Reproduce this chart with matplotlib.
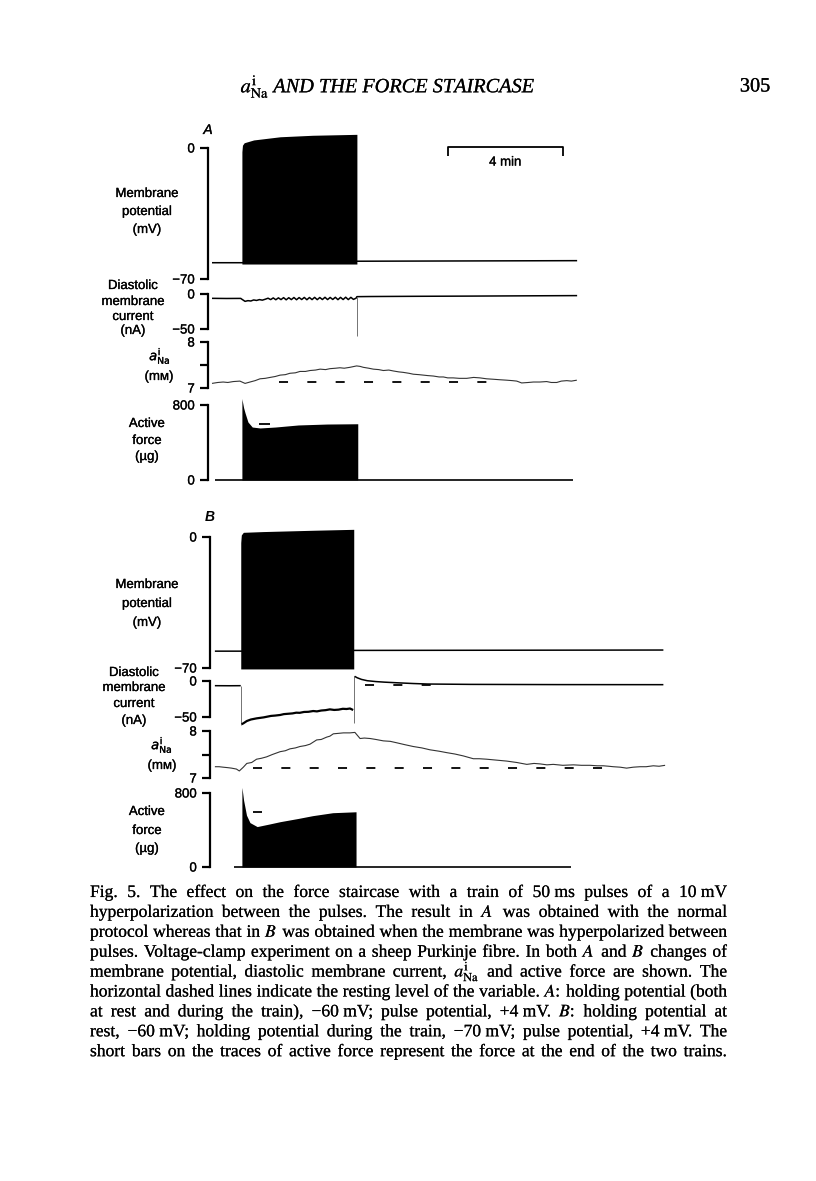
# coding: utf-8
import matplotlib
matplotlib.use('Agg')
import matplotlib.pyplot as plt
import matplotlib.patheffects as pe

# page size (px at dpi 100)
W = 816
H = 1181

# every trace shares one time axis (minutes)
T0_PX = 212.0
PX_PER_MIN = 28.75
RIGHT_PX = 700.0

SANS = ['Liberation Sans', 'DejaVu Sans']
SERIF = ['Liberation Serif', 'DejaVu Serif']
INK = [pe.withStroke(linewidth=0.2, foreground='black')]

# ---------------- A : membrane potential (mV)
memATime = [0.0, 1.04, 5.04, 12.7]
memAVal = [-61.3, -61.3, -60.5, -60.2]
trainATime = [1.04, 1.06, 1.12, 1.45, 2.37, 3.5, 5.04]
trainATop = [-2.0, 1.5, 2.8, 4.3, 6.0, 6.8, 7.3]
trainABottom = -62.0

# ---------------- A : diastolic membrane current (nA)
curATime = [0.0, 0.5, 1.0, 1.04, 1.15, 1.25, 1.35, 1.45, 1.55, 1.65, 1.75, 1.85,
            1.95, 2.04, 2.13, 2.22, 2.31, 2.40, 2.49, 2.58, 2.67, 2.76, 2.85, 2.94,
            3.03, 3.12, 3.21, 3.30, 3.39, 3.48, 3.57, 3.66, 3.75, 3.84, 3.93, 4.02,
            4.11, 4.20, 4.29, 4.38, 4.47, 4.56, 4.65, 4.74, 4.83, 4.92, 5.01,
            5.04, 5.5, 7.0, 9.0, 11.0, 12.7]
curAVal = [-6.2, -6.4, -6.3, -7.5, -10.5, -9.5, -10.0, -8.5, -9.2, -8.0, -8.8, -7.5,
           -6.0, -8.0, -5.6, -8.2, -5.5, -8.0, -5.2, -8.3, -5.3, -8.0, -5.0, -8.2,
           -5.1, -7.9, -4.9, -8.2, -5.0, -8.0, -4.8, -8.1, -5.0, -7.9, -4.7, -8.0,
           -4.9, -7.8, -4.7, -8.1, -4.8, -7.9, -4.6, -8.0, -4.8, -7.7, -6.0,
           -3.8, -3.6, -3.3, -3.0, -2.6, -2.3]
curASpikeTime = [5.04, 5.04]
curASpikeVal = [-4.0, -60.0]

# ---------------- A : aNa (mM)
anaATime = [0.0, 0.2, 0.39, 0.55, 0.74, 0.97, 1.15, 1.38, 1.5, 1.67, 1.85, 2.02,
            2.2, 2.37, 2.55, 2.71, 2.9, 3.06, 3.25, 3.41, 3.6, 3.76, 3.95, 4.10,
            4.3, 4.45, 4.6, 4.80, 5.03, 5.15, 5.26, 5.45, 5.61, 5.8, 5.96, 6.15,
            6.31, 6.5, 6.65, 6.85, 7.00, 7.2, 7.35, 7.5, 7.70, 7.9, 8.05, 8.2,
            8.39, 8.6, 8.86, 9.1, 9.32, 9.55, 9.79, 10.0, 10.25, 10.45, 10.60,
            10.77, 11.0, 11.18, 11.4, 11.64, 11.8, 11.99, 12.15, 12.34, 12.5, 12.69]
anaAVal = [7.10, 7.12, 7.13, 7.12, 7.14, 7.15, 7.10, 7.14, 7.16, 7.20, 7.21, 7.23,
           7.25, 7.28, 7.29, 7.32, 7.33, 7.36, 7.36, 7.38, 7.39, 7.41, 7.40, 7.42,
           7.43, 7.44, 7.43, 7.45, 7.48, 7.47, 7.45, 7.43, 7.41, 7.40, 7.38, 7.39,
           7.37, 7.35, 7.34, 7.32, 7.30, 7.29, 7.28, 7.27, 7.26, 7.24, 7.24, 7.22,
           7.22, 7.21, 7.21, 7.23, 7.22, 7.20, 7.19, 7.18, 7.17, 7.16, 7.15,
           7.11, 7.12, 7.13, 7.13, 7.14, 7.12, 7.12, 7.15, 7.16, 7.15, 7.17]
restAnaA = 7.13
restAnaATime = [2.33, 9.57]

# ---------------- A : active force (ug)
forceABaseTime = [0.1, 12.55]
forceABaseVal = [0.0, 0.0]
forceATime = [1.04, 1.05, 1.1, 1.15, 1.25, 1.4, 1.67, 2.2, 3.0, 4.0, 5.07]
forceATop = [870, 850, 770, 715, 619, 565, 555, 565, 587, 597, 600]
endForceA = 598
endForceATime = [1.63, 2.0]

# ---------------- B : membrane potential (mV)
memBTime = [0.1, 1.0, 4.93, 15.7]
memBVal = [-61.0, -61.0, -60.6, -60.4]
trainBTime = [1.0, 1.02, 1.09, 1.78, 3.52, 4.93]
trainBTop = [-3.0, 1.1, 2.5, 2.9, 3.6, 4.1]
trainBBottom = -70.5

# ---------------- B : diastolic membrane current (nA)
curBPreTime = [0.1, 0.6, 1.0]
curBPreVal = [-6.5, -6.6, -6.5]
curBDropTime = [1.01, 1.01]
curBDropVal = [-6.5, -61.0]
curBTrainTime = [1.03, 1.09, 1.21, 1.35, 1.55, 1.8, 2.05, 2.2, 2.37, 2.5, 2.65, 2.8,
                 2.93, 3.05, 3.2, 3.35, 3.52, 3.65, 3.8, 3.95, 4.1, 4.25, 4.4, 4.55,
                 4.68, 4.8, 4.91]
curBTrainVal = [-60.0, -58.8, -55.6, -53.5, -51.9, -50.5, -48.5, -48.0, -47.2, -46.0,
                -45.5, -45.0, -44.0, -44.2, -43.0, -42.8, -41.7, -42.2, -41.0, -40.5,
                -39.4, -40.2, -39.8, -38.6, -38.9, -38.2, -40.3]
curBJumpTime = [4.94, 4.94]
curBJumpVal = [-58.0, 7.5]
curBPostTime = [4.96, 5.05, 5.2, 5.4, 5.7, 6.0, 6.5, 7.0, 7.5, 9.0, 12.0, 15.7]
curBPostVal = [6.5, 4.5, 2.2, 0.4, -0.8, -1.6, -2.6, -3.5, -4.2, -4.7, -5.0, -5.1]
restCurB = -5.6
restCurBTime = [5.32, 7.65]

# ---------------- B : aNa (mM)
anaBTime = [0.10, 0.25, 0.39, 0.55, 0.68, 0.85, 0.95, 1.09, 1.21, 1.38, 1.55, 1.72,
            1.90, 2.1, 2.37, 2.55, 2.71, 2.9, 3.06, 3.25, 3.41, 3.64, 3.8, 3.99,
            4.1, 4.22, 4.4, 4.57, 4.8, 4.97, 5.15, 5.3, 5.50, 5.7, 5.96, 6.2,
            6.42, 6.7, 7.00, 7.3, 7.58, 7.9, 8.16, 8.45, 8.74, 9.09, 9.3, 9.55,
            9.9, 10.25, 10.6, 10.95, 11.2, 11.41, 11.65, 11.87, 12.2, 12.57, 12.85,
            13.15, 13.4, 13.61, 13.8, 13.96, 14.2, 14.42, 14.65, 14.89, 15.1, 15.35,
            15.55, 15.76]
anaBVal = [7.24, 7.24, 7.23, 7.22, 7.21, 7.19, 7.15, 7.23, 7.31, 7.33, 7.40, 7.42,
           7.45, 7.50, 7.56, 7.58, 7.62, 7.64, 7.67, 7.69, 7.72, 7.81, 7.82, 7.87,
           7.89, 7.94, 7.95, 7.96, 7.96, 7.97, 7.84, 7.85, 7.84, 7.82, 7.79, 7.78,
           7.75, 7.71, 7.67, 7.64, 7.60, 7.57, 7.54, 7.51, 7.47, 7.41, 7.41, 7.40,
           7.38, 7.36, 7.33, 7.29, 7.31, 7.30, 7.28, 7.29, 7.27, 7.28, 7.27,
           7.27, 7.26, 7.26, 7.25, 7.24, 7.23, 7.21, 7.23, 7.24, 7.24, 7.26,
           7.25, 7.27]
restAnaB = 7.21
restAnaBTime = [1.43, 13.6]

# ---------------- B : active force (ug)
forceBBaseTime = [0.75, 12.5]
forceBBaseVal = [0.0, 0.0]
forceBTime = [1.04, 1.05, 1.1, 1.2, 1.32, 1.57, 2.0, 2.37, 3.0, 3.5, 4.2, 5.01]
forceBTop = [860, 840, 720, 560, 480, 437, 465, 490, 525, 555, 587, 597]
endForceB = 590
endForceBTime = [1.43, 1.74]

# scale bar (min)
scaleBarTime = [8.2, 12.2]

captionLines = [
    "Fig. 5. The effect on the force staircase with a train of 50\u00a0ms pulses of a 10\u00a0mV",
    "hyperpolarization between the pulses. The result in $\\mathit{A}$ was obtained with the normal",
    "protocol whereas that in $\\mathit{B}$ was obtained when the membrane was hyperpolarized between",
    "pulses. Voltage-clamp experiment on a sheep Purkinje fibre. In both $\\mathit{A}$ and $\\mathit{B}$ changes of",
    "membrane potential, diastolic membrane current, $a^{\\mathrm{i}}_{\\mathrm{Na}}$ and active force are shown. The",
    "horizontal dashed lines indicate the resting level of the variable. $\\mathit{A}$: holding potential (both",
    "at rest and during the train), \u221260\u00a0mV; pulse potential, +4\u00a0mV. $\\mathit{B}$: holding potential at",
    "rest, \u221260\u00a0mV; holding potential during the train, \u221270\u00a0mV; pulse potential, +4\u00a0mV. The",
    "short bars on the traces of active force represent the force at the end of the two trains.",
]


def fx(px):
    return px / W


def fy(py):
    return 1.0 - py / H


def addPanel(fig, leftPx, topPx, bottomPx, yBottom, yTop, labels, midTick=None):
    ax = fig.add_axes([fx(leftPx), fy(bottomPx), (RIGHT_PX - leftPx) / W,
                       (bottomPx - topPx) / H])
    ax.set_xlim((leftPx - T0_PX) / PX_PER_MIN, (RIGHT_PX - T0_PX) / PX_PER_MIN)
    ax.set_ylim(yBottom, yTop)
    for side in ['top', 'right', 'bottom']:
        ax.spines[side].set_visible(False)
    ax.spines['left'].set_linewidth(1.6)
    ax.set_xticks([])
    ticks = [yBottom, yTop]
    tickLabels = list(labels)
    if midTick is not None:
        ticks.append(midTick)
        tickLabels.append('')
    ax.set_yticks(ticks, tickLabels)
    ax.tick_params(axis='y', direction='out', length=5.5, width=1.6, pad=4,
                   labelsize=9.5)
    for lab in ax.get_yticklabels():
        lab.set_path_effects(INK)
    ax.patch.set_visible(False)
    return ax


def line(ax, t, v, **kw):
    opts = dict(color='black', lw=1.0, clip_on=False, solid_capstyle='butt')
    opts.update(kw)
    ax.plot(t, v, **opts)


def dashed(ax, t, level):
    ax.plot(t, [level, level], color='black', lw=1.3, clip_on=False,
            dashes=(6.5, 13.9), dash_capstyle='butt')


def sideLabel(fig, xPx, yList, texts, **kw):
    for y, s in zip(yList, texts):
        fig.text(fx(xPx), fy(y), s, ha='center', va='center', fontsize=9.5,
                 family=SANS, math_fontfamily='dejavusans', path_effects=INK, **kw)


def drawCaption(fig, lines, x0, x1, yStart, step):
    r = fig.canvas.get_renderer()
    # pick the font size so that the tightest line just fills the column
    size = 10.0
    fits = []
    for s in lines[:-1]:
        t = fig.text(0, 0, s, fontsize=size, family=SERIF, math_fontfamily='stix')
        fits.append((x1 - x0) / t.get_window_extent(r).width)
        t.remove()
    size = size * min(fits) * 0.995
    ink = [pe.withStroke(linewidth=0.1, foreground='black')]

    for i, s in enumerate(lines):
        words = s.split(' ')
        base = yStart + i * step + 4
        arts = [fig.text(0, fy(base), w, fontsize=size, family=SERIF,
                         math_fontfamily='stix', ha='left', va='baseline',
                         path_effects=ink)
                for w in words]
        widths = [a.get_window_extent(r).width for a in arts]
        gap = (x1 - x0 - sum(widths)) / (len(words) - 1)
        x = x0
        for a, w in zip(arts, widths):
            a.set_x(fx(x))
            x += w + gap


def main():
    plt.rcParams['font.family'] = SANS
    plt.rcParams['lines.scale_dashes'] = False
    fig = plt.figure(figsize=(W / 100.0, H / 100.0), dpi=100)

    # running head
    head = [pe.withStroke(linewidth=0.15, foreground='black')]
    fig.text(fx(388), fy(87), "$a^{\\mathrm{i}}_{\\mathrm{Na}}$ AND THE FORCE STAIRCASE",
             ha='center', va='center', fontsize=14.6, family=SERIF, style='italic',
             math_fontfamily='stix', path_effects=head)
    fig.text(fx(755), fy(87), "305", ha='center', va='center', fontsize=14.6,
             family=SERIF, path_effects=head)

    # ---------------- panel A
    fig.text(fx(208), fy(130), "A", ha='center', va='center', fontsize=10,
             style='italic', path_effects=INK)

    ax = addPanel(fig, 208, 148, 279, -70, 0, ['\u221270', '0'])
    ax.fill_between(trainATime, trainABottom, trainATop, color='black', lw=0, clip_on=False)
    line(ax, memATime, memAVal, lw=1.1)
    line(ax, [scaleBarTime[0], scaleBarTime[0], scaleBarTime[1], scaleBarTime[1]],
         [-4.3, 0.5, 0.5, -4.3], lw=1.3)
    ax.text(sum(scaleBarTime) / 2, -7.8, "4 min", ha='center', va='center', fontsize=9.5,
            path_effects=INK)
    sideLabel(fig, 147, [194, 212, 230], ["Membrane", "potential", "(mV)"])

    ax = addPanel(fig, 208, 294, 329, -50, 0, ['\u221250', '0'])
    line(ax, curATime, curAVal, lw=1.1)
    line(ax, curASpikeTime, curASpikeVal, lw=0.7, color='0.45')
    sideLabel(fig, 133, [286, 302, 317, 331], ["Diastolic", "membrane", "current", "(nA)"])

    ax = addPanel(fig, 208, 342, 388, 7, 8, ['7', '8'], midTick=7.5)
    line(ax, anaATime, anaAVal, lw=0.8, color='0.2')
    dashed(ax, restAnaATime, restAnaA)
    sideLabel(fig, 160, [356], ["$a^{\\mathrm{i}}_{\\mathrm{Na}}$"])
    sideLabel(fig, 159, [377], ["(m\u1d0d)"])

    ax = addPanel(fig, 208, 405, 480, 0, 800, ['0', '800'])
    ax.fill_between(forceATime, 0, forceATop, color='black', lw=0, clip_on=False)
    line(ax, forceABaseTime, forceABaseVal, lw=1.2)
    line(ax, endForceATime, [endForceA, endForceA], lw=1.3)
    sideLabel(fig, 147, [424, 441, 457], ["Active", "force", "(\u00b5g)"])

    # ---------------- panel B
    fig.text(fx(210), fy(517), "B", ha='center', va='center', fontsize=10,
             style='italic', weight='bold')

    ax = addPanel(fig, 210, 537, 668, -70, 0, ['\u221270', '0'])
    ax.fill_between(trainBTime, trainBBottom, trainBTop, color='black', lw=0, clip_on=False)
    line(ax, memBTime, memBVal, lw=1.1)
    sideLabel(fig, 147, [585, 604, 623], ["Membrane", "potential", "(mV)"])

    ax = addPanel(fig, 210, 681, 717, -50, 0, ['\u221250', '0'])
    line(ax, curBPreTime, curBPreVal, lw=1.1)
    line(ax, curBDropTime, curBDropVal, lw=0.7, color='0.45')
    line(ax, curBTrainTime, curBTrainVal, lw=1.6)
    line(ax, curBJumpTime, curBJumpVal, lw=0.7, color='0.45')
    line(ax, curBPostTime, curBPostVal, lw=1.1)
    dashed(ax, restCurBTime, restCurB)
    sideLabel(fig, 134, [673, 688, 704, 721], ["Diastolic", "membrane", "current", "(nA)"])

    ax = addPanel(fig, 210, 731, 778, 7, 8, ['7', '8'], midTick=7.5)
    line(ax, anaBTime, anaBVal, lw=0.8, color='0.2')
    dashed(ax, restAnaBTime, restAnaB)
    sideLabel(fig, 162, [745], ["$a^{\\mathrm{i}}_{\\mathrm{Na}}$"])
    sideLabel(fig, 162, [766], ["(m\u1d0d)"])

    ax = addPanel(fig, 210, 793, 867, 0, 800, ['0', '800'])
    ax.fill_between(forceBTime, 0, forceBTop, color='black', lw=0, clip_on=False)
    line(ax, forceBBaseTime, forceBBaseVal, lw=1.2)
    line(ax, endForceBTime, [endForceB, endForceB], lw=1.3)
    sideLabel(fig, 147, [812, 831, 849], ["Active", "force", "(\u00b5g)"])

    # caption
    drawCaption(fig, captionLines, 90, 727, 893, 19.9)

    fig.savefig('out.png', dpi=100, facecolor='white')


if __name__ == '__main__':
    main()
